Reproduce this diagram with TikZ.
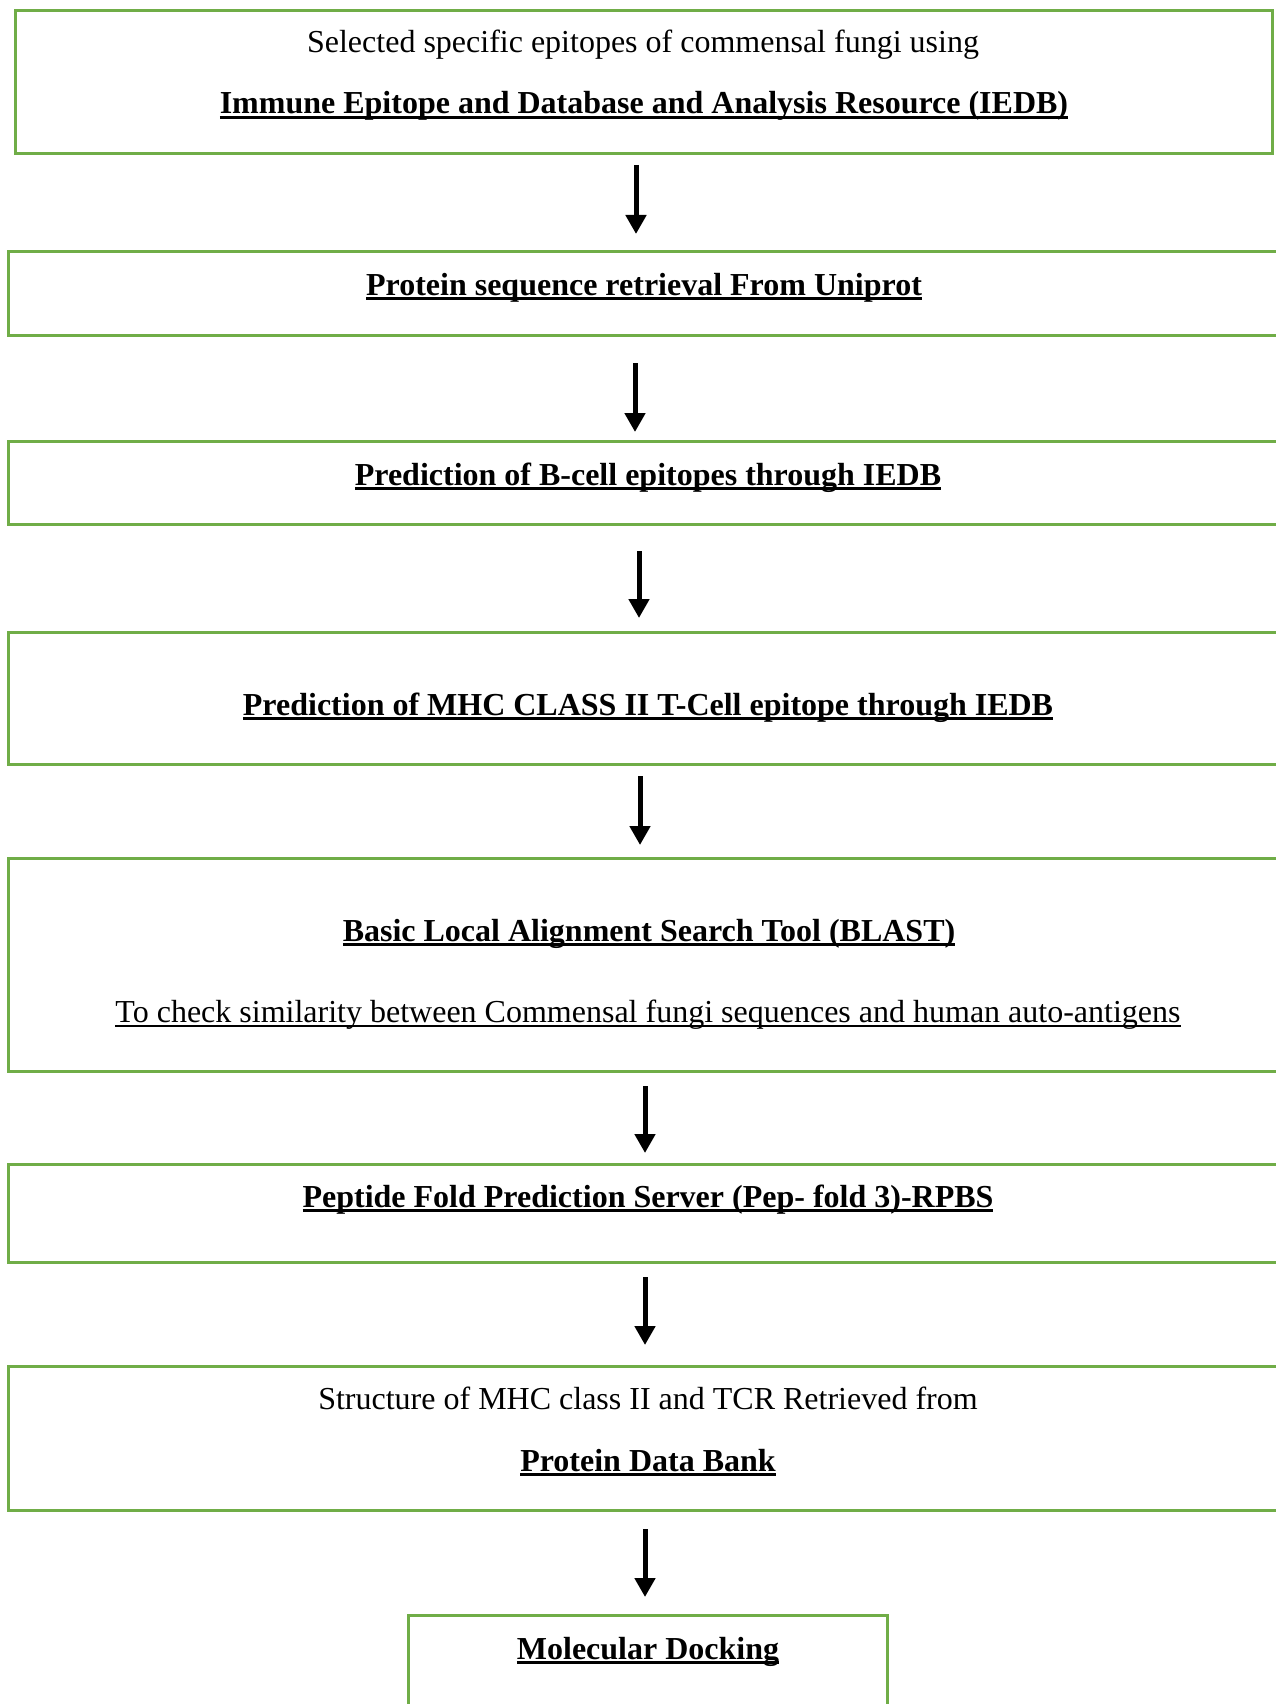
\documentclass[tikz,border=0pt]{standalone}
\usepackage{fontspec}
\setmainfont{Liberation Serif}
\usetikzlibrary{arrows.meta}
\definecolor{boxgreen}{RGB}{112,173,71}
\newcommand\ulbold[1]{{\bfseries\setbox0\hbox{#1}\rlap{\rule[-5pt]{\wd0}{3pt}}\box0}}
\newcommand\ulreg[1]{{\setbox0\hbox{#1}\rlap{\rule[-5pt]{\wd0}{2pt}}\box0}}
\begin{document}
\begin{tikzpicture}[x=1pt,y=-1pt,
  box/.style={draw=boxgreen,line width=3pt,rectangle,anchor=north west,inner sep=0pt,outer sep=0pt},
  txt/.style={anchor=base,inner sep=0pt,font=\fontsize{32}{38}\selectfont},
  arr/.style={line width=5pt,-{Triangle[width=20pt,length=19pt]}}]
\useasboundingbox[fill=white] (0,0) rectangle (1275,1704);
% boxes
\node[box,minimum width=1257pt,minimum height=143pt] (b1) at (15,11) {};
\node[box,minimum width=1290pt,minimum height=83pt] (b2) at (8,252) {};
\node[box,minimum width=1290pt,minimum height=83pt] (b3) at (8,441) {};
\node[box,minimum width=1290pt,minimum height=132pt] (b4) at (8,632) {};
\node[box,minimum width=1290pt,minimum height=213pt] (b5) at (8,858) {};
\node[box,minimum width=1290pt,minimum height=98pt] (b6) at (8,1164) {};
\node[box,minimum width=1290pt,minimum height=144pt] (b7) at (8,1366) {};
\node[box,minimum width=479pt,minimum height=120pt] (b8) at (408,1615) {};
% texts
\node[txt] (t1a) at (643,53) {Selected specific epitopes of commensal fungi using};
\node[txt] (t1b) at (644,114) {\ulbold{Immune Epitope and Database and Analysis Resource (IEDB)}};
\node[txt] (t2) at (644,295) {\ulbold{Protein sequence retrieval From Uniprot}};
\node[txt] (t3) at (648,485) {\ulbold{Prediction of B-cell epitopes through IEDB}};
\node[txt] (t4) at (648,715) {\ulbold{Prediction of MHC CLASS II T-Cell epitope through IEDB}};
\node[txt] (t5a) at (649,941) {\ulbold{Basic Local Alignment Search Tool (BLAST)}};
\node[txt] (t5b) at (648,1022) {\ulreg{To check similarity between Commensal fungi sequences and human auto-antigens}};
\node[txt] (t6) at (648,1207) {\ulbold{Peptide Fold Prediction Server (Pep- fold 3)-RPBS}};
\node[txt] (t7a) at (648,1409) {Structure of MHC class II and TCR Retrieved from};
\node[txt] (t7b) at (648,1471) {\ulbold{Protein Data Bank}};
\node[txt] (t8) at (648,1659) {\ulbold{Molecular Docking}};
% arrows
\draw[arr,shorten <=11pt,shorten >=18pt] ([xshift=-7.5pt]b1.south) -- ([xshift=-7.5pt]b1.south |- b2.north);
\draw[arr,shorten <=28pt,shorten >=9pt] ([xshift=-18pt]b2.south) -- ([xshift=-18pt]b3.north);
\draw[arr,shorten <=27pt,shorten >=14pt] ([xshift=-14pt]b3.south) -- ([xshift=-14pt]b4.north);
\draw[arr,shorten <=12pt,shorten >=13pt] ([xshift=-13pt]b4.south) -- ([xshift=-13pt]b5.north);
\draw[arr,shorten <=15pt,shorten >=11pt] ([xshift=-8pt]b5.south) -- ([xshift=-8pt]b6.north);
\draw[arr,shorten <=15pt,shorten >=21pt] ([xshift=-8pt]b6.south) -- ([xshift=-8pt]b7.north);
\draw[arr,shorten <=19pt,shorten >=18pt] ([xshift=-8pt]b7.south) -- ([xshift=-8pt]b7.south |- b8.north);
\end{tikzpicture}
\end{document}
